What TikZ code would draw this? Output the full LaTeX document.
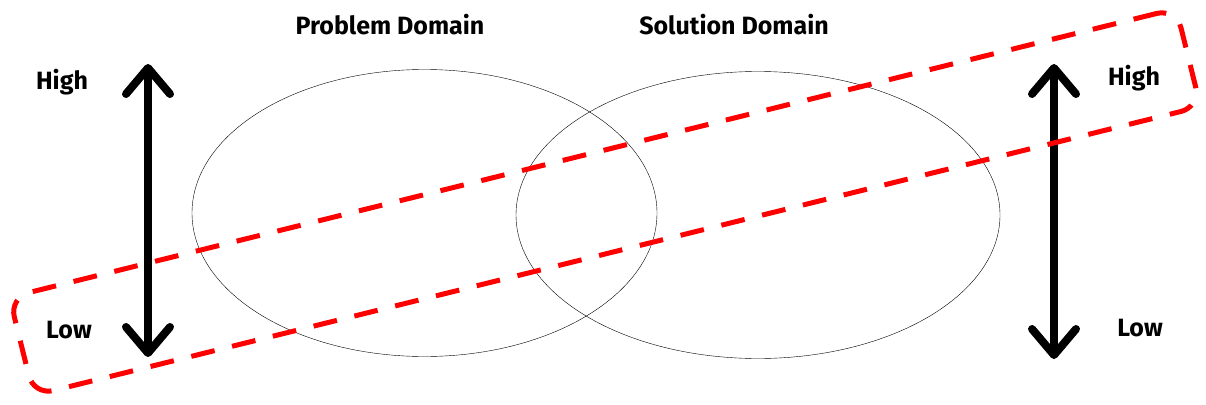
\documentclass[tikz,border=0pt]{standalone}
\usepackage{fontspec}
\setmainfont{Fira Sans}
\usetikzlibrary{arrows.meta,positioning,shapes.geometric}

\begin{document}
\begin{tikzpicture}[x=1pt, y=-1pt,
    every node/.style={font=\fontsize{25}{30}\selectfont\bfseries},
    area/.style={ellipse, draw, thin, inner sep=0pt},
    level/.style={line width=8pt, line cap=round,
      {Straight Barb[round,length=26pt,width=44pt]}-{Straight Barb[round,length=26pt,width=44pt]}},
    band/.style={draw=red, line width=5pt, dash pattern=on 24pt off 18pt, rounded corners=20pt, inner sep=0pt}]
  \useasboundingbox (0,0) rectangle (1206,404);
  \node[area, minimum width=465pt, minimum height=287pt] (prob) at (424.5,213) {};
  \node[area, minimum width=484pt, minimum height=287pt] (sol) at (758,215) {};
  \node (probtitle) at (390,25) {Problem Domain};
  \node (soltitle) at (734,25) {Solution Domain};
  \coordinate (ltop) at (148,64);
  \coordinate (lbot) at (148,357);
  \coordinate (rtop) at (1054,64);
  \coordinate (rbot) at (1054,359);
  \draw[level] (lbot) -- (ltop);
  \draw[level] (rbot) -- (rtop);
  \node (lhigh) at (62,82) {High};
  \node (llow) at (69,330) {Low};
  \node (rhigh) at (1134,78) {High};
  \node (rlow) at (1140,328) {Low};
  % band across both domains
  \node[band, minimum width=1202pt, minimum height=101pt, rotate=13.9] (focus) at (605,202) {};
\end{tikzpicture}
\end{document}
